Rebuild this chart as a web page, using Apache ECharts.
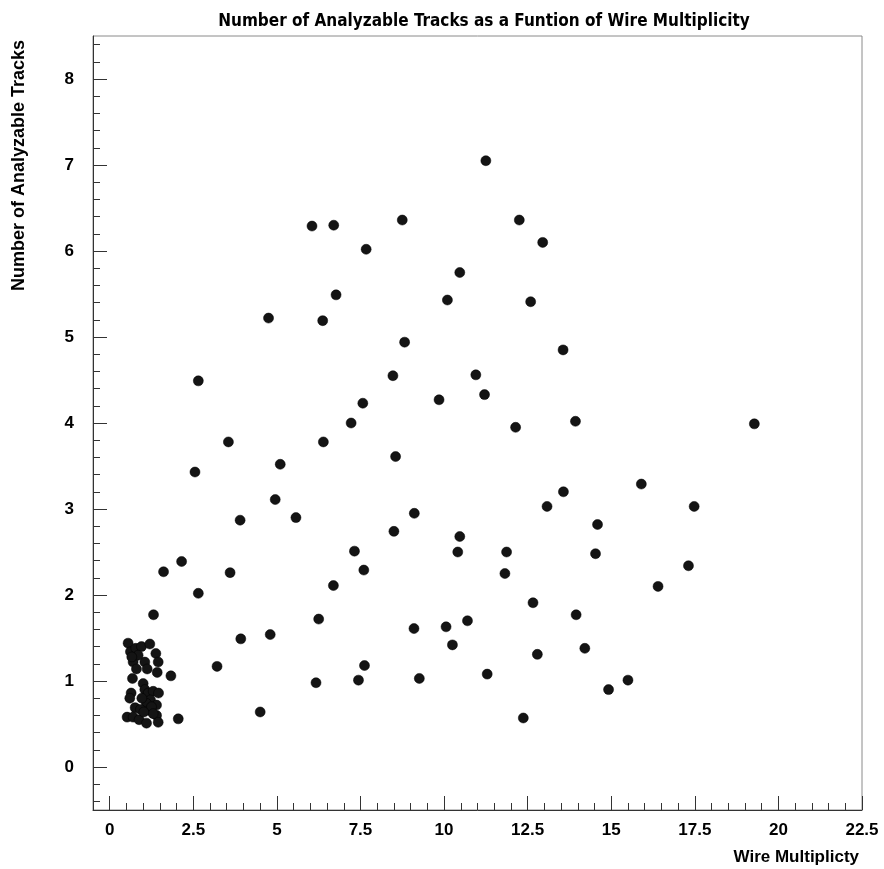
<!DOCTYPE html>
<html>
<head>
<meta charset="utf-8">
<script src="https://cdn.jsdelivr.net/npm/echarts@6/dist/echarts.min.js"></script>
<style>
html,body{margin:0;padding:0;background:#fff;}
#chart{width:884px;height:869px;}
</style>
</head>
<body>
<div id="chart"></div>
<script>
// ---- data ----
const titleText = "Number of Analyzable Tracks as a Funtion of Wire Multiplicity";
const xAxisName = "Wire Multiplicty";
const yAxisName = "Number of Analyzable Tracks";

const wireMultiplicity = [
  11.25, 6.05, 6.70, 8.75, 12.25, 12.95, 7.67, 10.47, 6.77, 10.10,
  12.59, 4.75, 6.37, 8.82, 13.56, 2.65, 8.47, 10.95, 11.21, 7.57,
  9.85, 7.22, 12.14, 13.93, 19.28, 3.55, 6.39, 8.55, 2.55, 5.10,
  13.57, 15.90, 17.48, 13.08, 4.95, 9.11, 3.90, 5.57, 10.47, 14.59,
  8.50, 7.32, 10.41, 11.87, 14.53, 2.15, 1.61, 3.60, 7.60, 11.82,
  17.31, 16.40, 6.69, 2.65, 12.66, 1.31, 6.25, 13.95, 10.70, 3.92,
  4.80, 9.10, 10.06, 10.25, 14.21, 12.79, 3.21, 7.62, 1.83, 6.17,
  7.44, 9.26, 11.29, 15.50, 14.92, 4.50, 2.05, 12.37,
  // low-multiplicity cluster
  0.55, 0.62, 0.78, 0.95, 1.20, 1.38, 0.70, 0.80, 1.05, 1.12,
  1.45, 1.42, 0.68, 1.00, 0.64, 0.60, 1.05, 1.15, 1.30, 1.46,
  1.22, 1.40, 1.10, 0.76, 0.92, 1.18, 1.40, 0.52, 0.70, 0.88,
  1.10, 1.45, 0.96, 1.25, 0.85, 1.30, 0.66, 1.02
];
const analyzableTracks = [
  7.05, 6.29, 6.30, 6.36, 6.36, 6.10, 6.02, 5.75, 5.49, 5.43,
  5.41, 5.22, 5.19, 4.94, 4.85, 4.49, 4.55, 4.56, 4.33, 4.23,
  4.27, 4.00, 3.95, 4.02, 3.99, 3.78, 3.78, 3.61, 3.43, 3.52,
  3.20, 3.29, 3.03, 3.03, 3.11, 2.95, 2.87, 2.90, 2.68, 2.82,
  2.74, 2.51, 2.50, 2.50, 2.48, 2.39, 2.27, 2.26, 2.29, 2.25,
  2.34, 2.10, 2.11, 2.02, 1.91, 1.77, 1.72, 1.77, 1.70, 1.49,
  1.54, 1.61, 1.63, 1.42, 1.38, 1.31, 1.17, 1.18, 1.06, 0.98,
  1.01, 1.03, 1.08, 1.01, 0.90, 0.64, 0.56, 0.57,
  // low-multiplicity cluster
  1.44, 1.34, 1.38, 1.40, 1.43, 1.32, 1.22, 1.14, 1.22, 1.14,
  1.22, 1.10, 1.03, 0.97, 0.86, 0.80, 0.90, 0.86, 0.88, 0.86,
  0.78, 0.72, 0.74, 0.69, 0.67, 0.66, 0.60, 0.58, 0.58, 0.55,
  0.51, 0.52, 0.80, 0.70, 1.30, 0.62, 1.28, 0.64
];

const xTickLabels = [0, 2.5, 5, 7.5, 10, 12.5, 15, 17.5, 20, 22.5];
const yTickLabels = [0, 1, 2, 3, 4, 5, 6, 7, 8];
const xRange = [-0.5, 22.5];
const yRange = [-0.5, 8.5];

// minor tick positions
const xMinorTicks = [];
for (let i = 0; i <= 45; i++) xMinorTicks.push(+(-0.5 + i * 0.5).toFixed(2));
const yMinorTicks = [];
for (let i = 0; i <= 44; i++) yMinorTicks.push(+(-0.4 + i * 0.2).toFixed(2));

const points = wireMultiplicity.map((x, i) => [x, analyzableTracks[i]]);

// ---- chart ----
const FONT = '"Liberation Sans", Arial, Helvetica, sans-serif';
const chart = echarts.init(document.getElementById('chart'), null, {renderer: 'canvas'});

const axisColor = '#333';
const labelStyle = {color: '#000', fontFamily: FONT, fontWeight: 'bold', fontSize: 17};

chart.setOption({
  animation: false,
  backgroundColor: '#fff',
  title: {
    text: titleText,
    left: 479,
    top: 8,
    textAlign: 'center',
    textStyle: {fontFamily: '"Liberation Sans Narrow", "DejaVu Sans Condensed", Arial, sans-serif', fontWeight: 'bold', fontSize: 17, color: '#000'}
  },
  grid: {
    left: 93, right: 22, top: 36, bottom: 59,
    show: true, borderColor: '#8a8a8a', borderWidth: 1, backgroundColor: 'transparent'
  },
  xAxis: [
    {
      type: 'value', min: xRange[0], max: xRange[1], position: 'bottom',
      splitLine: {show: false},
      axisLine: {show: true, onZero: false, lineStyle: {color: axisColor, width: 1}},
      axisTick: {show: true, inside: true, length: 14, customValues: xTickLabels, lineStyle: {color: axisColor}},
      axisLabel: {show: true, customValues: xTickLabels, margin: 12, ...labelStyle,
        formatter: v => String(v)}
    },
    {
      type: 'value', min: xRange[0], max: xRange[1], position: 'bottom',
      splitLine: {show: false},
      axisLine: {show: false, onZero: false},
      axisTick: {show: true, inside: true, length: 7, customValues: xMinorTicks, lineStyle: {color: axisColor}},
      axisLabel: {show: false}
    }
  ],
  yAxis: [
    {
      type: 'value', min: yRange[0], max: yRange[1], position: 'left',
      splitLine: {show: false},
      axisLine: {show: true, onZero: false, lineStyle: {color: axisColor, width: 1}},
      axisTick: {show: true, inside: true, length: 14, customValues: yTickLabels, lineStyle: {color: axisColor}},
      axisLabel: {show: true, customValues: yTickLabels, margin: 19, ...labelStyle,
        formatter: v => String(v)}
    },
    {
      type: 'value', min: yRange[0], max: yRange[1], position: 'left',
      splitLine: {show: false},
      axisLine: {show: false, onZero: false},
      axisTick: {show: true, inside: true, length: 7, customValues: yMinorTicks, lineStyle: {color: axisColor}},
      axisLabel: {show: false}
    }
  ],
  graphic: [
    {
      type: 'text', x: 19, y: 40, rotation: Math.PI / 2,
      style: {text: yAxisName, textAlign: 'right', textVerticalAlign: 'middle',
        font: 'bold 18px ' + FONT, fill: '#000'}
    },
    {
      type: 'text', x: 859, y: 857,
      style: {text: xAxisName, textAlign: 'right', textVerticalAlign: 'middle',
        font: 'bold 17px ' + FONT, fill: '#000'}
    }
  ],
  series: [{
    type: 'scatter',
    xAxisIndex: 0, yAxisIndex: 0,
    symbol: 'circle',
    symbolSize: 10,
    itemStyle: {color: '#141414', opacity: 1, borderColor: '#000', borderWidth: 0.5},
    data: points
  }]
});
</script>
</body>
</html>
